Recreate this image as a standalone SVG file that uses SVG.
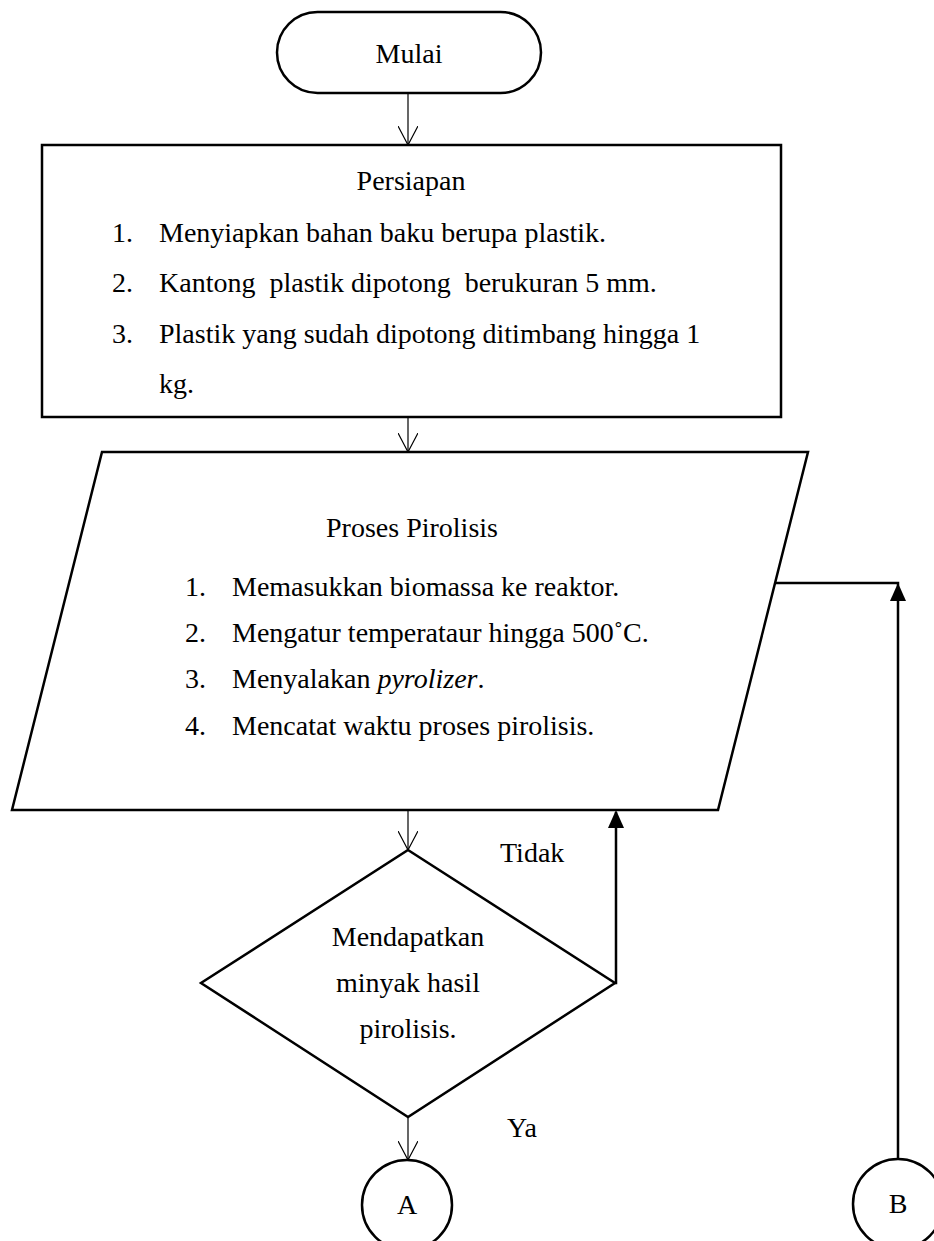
<svg xmlns="http://www.w3.org/2000/svg" width="934" height="1241" viewBox="0 0 934 1241">
<style>
.shape{fill:#fff;stroke:#000;stroke-width:2.5}
.t{font-family:"Liberation Serif","Times New Roman",serif;font-size:28px;fill:#000}
.c{text-anchor:middle}
.thin{fill:none;stroke:#000;stroke-width:1.2}
.thick{fill:none;stroke:#000;stroke-width:2.5}
</style>
<defs>
<marker id="open" viewBox="0 0 20 20" refX="19" refY="10" markerWidth="20" markerHeight="20" markerUnits="userSpaceOnUse" orient="auto">
<path d="M0,0 L19,10 L0,20" fill="none" stroke="#000" stroke-width="1.2"/>
</marker>
</defs>
<rect width="934" height="1241" fill="#fff"/>
<g id="connectors">
<line class="thin" x1="408" y1="93" x2="408" y2="145" marker-end="url(#open)"/>
<line class="thin" x1="408" y1="417" x2="408" y2="452" marker-end="url(#open)"/>
<line class="thin" x1="408" y1="810" x2="408" y2="850" marker-end="url(#open)"/>
<line class="thin" x1="408" y1="1117" x2="408" y2="1160" marker-end="url(#open)"/>
<polyline class="thick" points="615,983 616,983 616,812"/>
<path d="M616,810 L624,828 L608,828 Z" fill="#000"/>
<polyline class="thick" points="775,583 898,583 898,1159"/>
<path d="M898,583 L906,601 L890,601 Z" fill="#000"/>
</g>
<g id="mulai">
<rect class="shape" x="277" y="12" width="264" height="81" rx="40.5"/>
<text class="t c" x="409" y="63">Mulai</text>
</g>
<g id="persiapan">
<rect class="shape" x="42" y="145" width="739" height="272"/>
<text class="t c" x="411" y="190">Persiapan</text>
<text class="t" x="112" y="242">1.</text>
<text class="t" x="159" y="242">Menyiapkan bahan baku berupa plastik.</text>
<text class="t" x="112" y="292">2.</text>
<text class="t" x="159" y="292" xml:space="preserve">Kantong  plastik dipotong  berukuran 5 mm.</text>
<text class="t" x="112" y="343">3.</text>
<text class="t" x="159" y="343">Plastik yang sudah dipotong ditimbang hingga 1</text>
<text class="t" x="159" y="393">kg.</text>
</g>
<g id="pirolisis">
<polygon class="shape" points="102,452 808,452 718,810 12,810"/>
<text class="t c" x="412" y="537">Proses Pirolisis</text>
<text class="t" x="185" y="596">1.</text>
<text class="t" x="232" y="596">Memasukkan biomassa ke reaktor.</text>
<text class="t" x="185" y="642">2.</text>
<text class="t" x="232" y="642">Mengatur temperataur hingga 500˚C.</text>
<text class="t" x="185" y="688">3.</text>
<text class="t" x="232" y="688">Menyalakan <tspan font-style="italic">pyrolizer</tspan>.</text>
<text class="t" x="185" y="735">4.</text>
<text class="t" x="232" y="735">Mencatat waktu proses pirolisis.</text>
</g>
<g id="keputusan">
<polygon class="shape" points="408,850 615,983 408,1117 201,983"/>
<text class="t c" x="408" y="946">Mendapatkan</text>
<text class="t c" x="408" y="992">minyak hasil</text>
<text class="t c" x="408" y="1038">pirolisis.</text>
</g>
<g id="label-tidak"><text class="t" x="500" y="862">Tidak</text></g>
<g id="label-ya"><text class="t" x="507" y="1137">Ya</text></g>
<g id="konektor-a">
<circle class="shape" cx="407" cy="1205" r="45"/>
<text class="t c" x="407" y="1214">A</text>
</g>
<g id="konektor-b">
<circle class="shape" cx="898" cy="1204" r="45"/>
<text class="t c" x="898" y="1213">B</text>
</g>
</svg>
